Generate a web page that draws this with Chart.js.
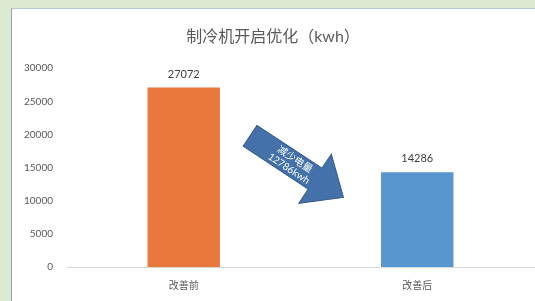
<!DOCTYPE html>
<html>
<head>
<meta charset="utf-8">
<script src="https://cdn.jsdelivr.net/npm/chart.js@4.4.1/dist/chart.umd.min.js"></script>
<style>
  html, body { margin: 0; padding: 0; }
  body { width: 535px; height: 301px; background: #dbead0; position: relative; overflow: hidden; }
  #panel {
    position: absolute; left: 11px; top: 8px; width: 524px; height: 293px;
    background: #ffffff; border-left: 1px solid #8fa7c6; border-top: 1px solid #b9c8d8;
    box-sizing: border-box; overflow: hidden;
  }
  #wrap { position: absolute; left: 0; top: 0; width: 523px; height: 300px; }
</style>
</head>
<body>
<div id="panel"><div id="wrap"><canvas id="myChart"></canvas></div></div>
<script>
'use strict';

var chartTitle = '制冷机开启优化（kwh）';
var categories = ['改善前', '改善后'];
var energy = [27072, 14286];
var barColors = ['#e8783b', '#5896cf'];
var arrowText = ['减少电量', '12786kwh'];

var fontFamily = 'Lato, "Noto Sans CJK SC", sans-serif';
var textGrey = '#595959';

// value labels above bars
var valueLabels = {
    id: 'valueLabels',
    afterDatasetsDraw: function (chart) {
        var ctx = chart.ctx;
        var meta = chart.getDatasetMeta(0);
        ctx.save();
        ctx.font = '11px ' + fontFamily;
        ctx.fillStyle = '#404040';
        ctx.textAlign = 'center';
        ctx.textBaseline = 'bottom';
        for (var i = 0; i < meta.data.length; i++) {
            var bar = meta.data[i];
            ctx.fillText(String(energy[i]), bar.x, bar.y - 8);
        }
        ctx.restore();
    }
};

// the blue arrow between the bars
var arrowNote = {
    id: 'arrowNote',
    afterDatasetsDraw: function (chart) {
        var a = chart.chartArea;
        var x0 = a.left + (a.right - a.left) * 0.392;
        var y0 = a.top + (a.bottom - a.top) * 0.34;
        var x1 = a.left + (a.right - a.left) * 0.592;
        var y1 = a.top + (a.bottom - a.top) * 0.65;
        var len = Math.sqrt((x1 - x0) * (x1 - x0) + (y1 - y0) * (y1 - y0));
        var ang = Math.atan2(y1 - y0, x1 - x0);
        var bw = 12.5, hw = 29.5, hl = 34;
        var ctx = chart.ctx;
        ctx.save();
        ctx.translate(x0, y0);
        ctx.rotate(ang);
        ctx.beginPath();
        ctx.moveTo(0, -bw);
        ctx.lineTo(len - hl, -bw);
        ctx.lineTo(len - hl, -hw);
        ctx.lineTo(len, 0);
        ctx.lineTo(len - hl, hw);
        ctx.lineTo(len - hl, bw);
        ctx.lineTo(0, bw);
        ctx.closePath();
        ctx.fillStyle = '#4471a9';
        ctx.fill();
        ctx.strokeStyle = '#345b8c';
        ctx.lineWidth = 1;
        ctx.stroke();
        ctx.fillStyle = '#ffffff';
        ctx.font = '10px ' + fontFamily;
        ctx.textAlign = 'center';
        ctx.textBaseline = 'middle';
        ctx.fillText(arrowText[0], len * 0.45, -5);
        ctx.fillText(arrowText[1], len * 0.45, 6);
        ctx.restore();
    }
};

var ctx = document.getElementById('myChart').getContext('2d');
var chart = new Chart(ctx, {
    type: 'bar',
    data: {
        labels: categories,
        datasets: [{
            data: energy,
            backgroundColor: barColors,
            borderWidth: 0,
            categoryPercentage: 1,
            barPercentage: 0.31
        }]
    },
    options: {
        responsive: true,
        maintainAspectRatio: false,
        animation: false,
        layout: { padding: { left: 0, right: 1, top: 0, bottom: 4 } },
        plugins: {
            legend: { display: false },
            tooltip: { enabled: false },
            title: {
                display: true,
                text: chartTitle,
                color: textGrey,
                font: { family: fontFamily, size: 16, weight: 'normal' },
                padding: { top: 18, bottom: 22 }
            }
        },
        scales: {
            x: {
                grid: { display: false, drawTicks: false },
                border: { display: true, color: '#d9d9d9', width: 1 },
                ticks: { color: textGrey, font: { family: fontFamily, size: 10 }, padding: 13 }
            },
            y: {
                min: 0,
                max: 30000,
                afterFit: function (scale) { scale.width = 55; },
                grid: { display: false, drawTicks: false },
                border: { display: false },
                ticks: {
                    stepSize: 5000,
                    color: textGrey,
                    font: { family: fontFamily, size: 10 },
                    padding: 14,
                    callback: function (value) { return String(value); }
                }
            }
        }
    },
    plugins: [valueLabels, arrowNote]
});
</script>
</body>
</html>
